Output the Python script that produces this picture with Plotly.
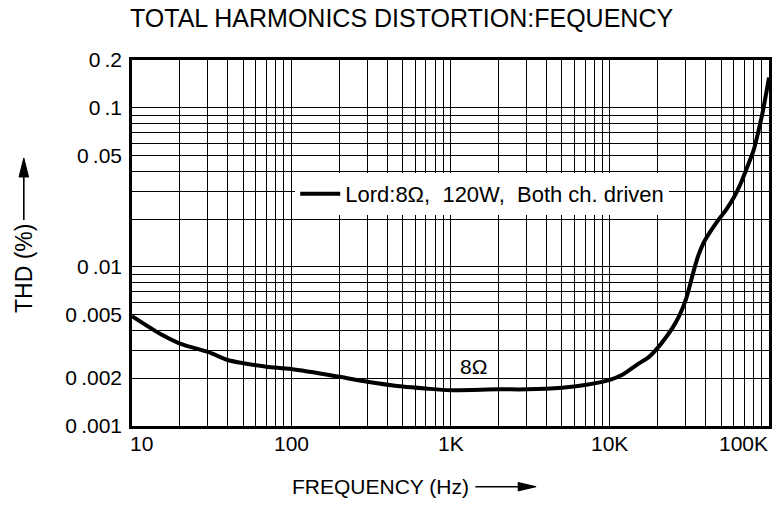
import math
import plotly.graph_objects as go

# ---------------- data ----------------
freq_hz = [10, 15, 20, 30, 40, 50, 70, 100, 200, 300, 500, 700, 1000, 2000, 3000,
           5000, 7000, 10000, 12000, 15000, 17500, 20000, 22500, 25000, 27500, 30000,
           32000, 34000, 36000, 39000, 43000, 48000, 54000, 60000, 66000, 73000,
           80000, 86000, 92000, 100000]
thd_pct = [0.0049, 0.0038, 0.0033, 0.00292, 0.0026, 0.00248, 0.00236, 0.00228, 0.00204,
           0.0019, 0.00177, 0.00172, 0.00168, 0.0017, 0.0017, 0.00174, 0.00181, 0.00195,
           0.0021, 0.00245, 0.0027, 0.0031, 0.0036, 0.0042, 0.0050, 0.0062,
           0.0078, 0.0098, 0.0118, 0.0143, 0.0168, 0.0197, 0.0230, 0.0272, 0.0330, 0.0425,
           0.0540, 0.0720, 0.0980, 0.155]
series_name = "Lord:8Ω,\u00a0 120W,\u00a0 Both ch. driven"
curve_label = "8Ω"
curve_label_pos = (1400, 0.00236)

x_tick_vals = [10, 100, 1000, 10000, 100000]
x_tick_text = ["10", "100", "1K", "10K", "100K"]
x_minor_vals = [m * 10 ** d for d in range(1, 5) for m in range(2, 10)]

y_tick_vals = [0.001, 0.002, 0.005, 0.01, 0.05, 0.1, 0.2]
y_tick_text = ["0\u2009.001", "0\u2009.002", "0\u2009.005", "0\u2009.01",
               "0\u2009.05", "0\u2009.1", "0\u2009.2"]
y_minor_vals = [m * 10 ** d for d in (-3, -2) for m in range(2, 10)]

title_text = "TOTAL HARMONICS DISTORTION:FEQUENCY"
x_title = "FREQUENCY (Hz)"
y_title = "THD (%)"

# ---------------- layout helpers ----------------
W, H = 775, 505
L, R, T, B = 132, 3, 60, 79
PW, PH = W - L - R, H - T - B
FONT = "Liberation Sans, Arial, Helvetica, sans-serif"


def px(xp):
    return (xp - L) / PW


def py(yp):
    return (H - B - yp) / PH


fig = go.Figure()
fig.add_trace(go.Scatter(
    x=freq_hz, y=thd_pct, mode="lines", name=series_name,
    line=dict(color="black", width=4, shape="spline", smoothing=0.8),
    showlegend=True,
))

grid = dict(showgrid=True, gridcolor="black", gridwidth=1.3)
fig.update_xaxes(
    type="log", range=[math.log10(10), math.log10(100000)],
    tickvals=x_tick_vals, showticklabels=False, ticks="",
    minor=dict(tickvals=x_minor_vals, showgrid=True, gridcolor="black", gridwidth=1.3, ticks=""),
    showline=True, linewidth=2.5, linecolor="black", mirror=True, zeroline=False,
    **grid,
)
fig.update_yaxes(
    type="log", range=[math.log10(0.001), math.log10(0.2)],
    tickvals=y_tick_vals, ticktext=y_tick_text, ticks="",
    tickfont=dict(family=FONT, size=21, color="black"), ticklabelstandoff=3,
    minor=dict(tickvals=y_minor_vals, showgrid=True, gridcolor="black", gridwidth=1.3, ticks=""),
    showline=True, linewidth=2.5, linecolor="black", mirror=True, zeroline=False,
    **grid,
)

annotations = []
anchors = ["left", "center", "center", "center", "right"]
shifts = [-4, 0, 0, 0, 1]
for v, t, a, s in zip(x_tick_vals, x_tick_text, anchors, shifts):
    annotations.append(dict(
        x=math.log10(v), y=py(443.5), xref="x", yref="paper", text=t,
        showarrow=False, xanchor=a, yanchor="middle", xshift=s,
        font=dict(family=FONT, size=21, color="black")))

annotations.append(dict(
    x=math.log10(curve_label_pos[0]), y=math.log10(curve_label_pos[1]),
    xref="x", yref="y", text=curve_label, showarrow=False,
    font=dict(family=FONT, size=21, color="black")))

annotations.append(dict(
    x=px(291), y=py(486.5), xref="paper", yref="paper", text=x_title,
    showarrow=False, xanchor="left", yanchor="middle",
    font=dict(family=FONT, size=21, color="black")))

annotations.append(dict(
    x=px(23), y=py(268.5), xref="paper", yref="paper", text=y_title,
    showarrow=False, textangle=-90, xanchor="center", yanchor="middle",
    font=dict(family=FONT, size=23, color="black")))

shapes = [
    # x title arrow
    dict(type="line", xref="paper", yref="paper", x0=px(477), x1=px(525),
         y0=py(486.7), y1=py(486.7), line=dict(color="black", width=1.6)),
    dict(type="path", xref="paper", yref="paper",
         path=f"M{px(520)},{py(482.5)} L{px(538)},{py(486.7)} L{px(520)},{py(490.9)} Z",
         fillcolor="black", line=dict(color="black", width=1)),
    # y title arrow
    dict(type="line", xref="paper", yref="paper", x0=px(23.3), x1=px(23.3),
         y0=py(220), y1=py(172), line=dict(color="black", width=1.6)),
    dict(type="path", xref="paper", yref="paper",
         path=f"M{px(18.5)},{py(177)} L{px(23.3)},{py(158)} L{px(28.1)},{py(177)} Z",
         fillcolor="black", line=dict(color="black", width=1)),
]

fig.update_layout(
    width=W, height=H, autosize=False,
    margin=dict(l=L, r=R, t=T, b=B),
    paper_bgcolor="white", plot_bgcolor="white",
    title=dict(text=title_text, x=130 / W, xref="container", xanchor="left",
               y=1 - 18 / H, yref="container", yanchor="middle",
               font=dict(family=FONT, size=25, color="black")),
    legend=dict(x=px(296), y=py(173), xanchor="left", yanchor="top",
                bgcolor="white", borderwidth=0, itemwidth=40,
                font=dict(family=FONT, size=22, color="black")),
    annotations=annotations,
    shapes=shapes,
)

fig.write_html("out.html", config={"displayModeBar": False},
               post_script="document.body.style.margin='0';")
